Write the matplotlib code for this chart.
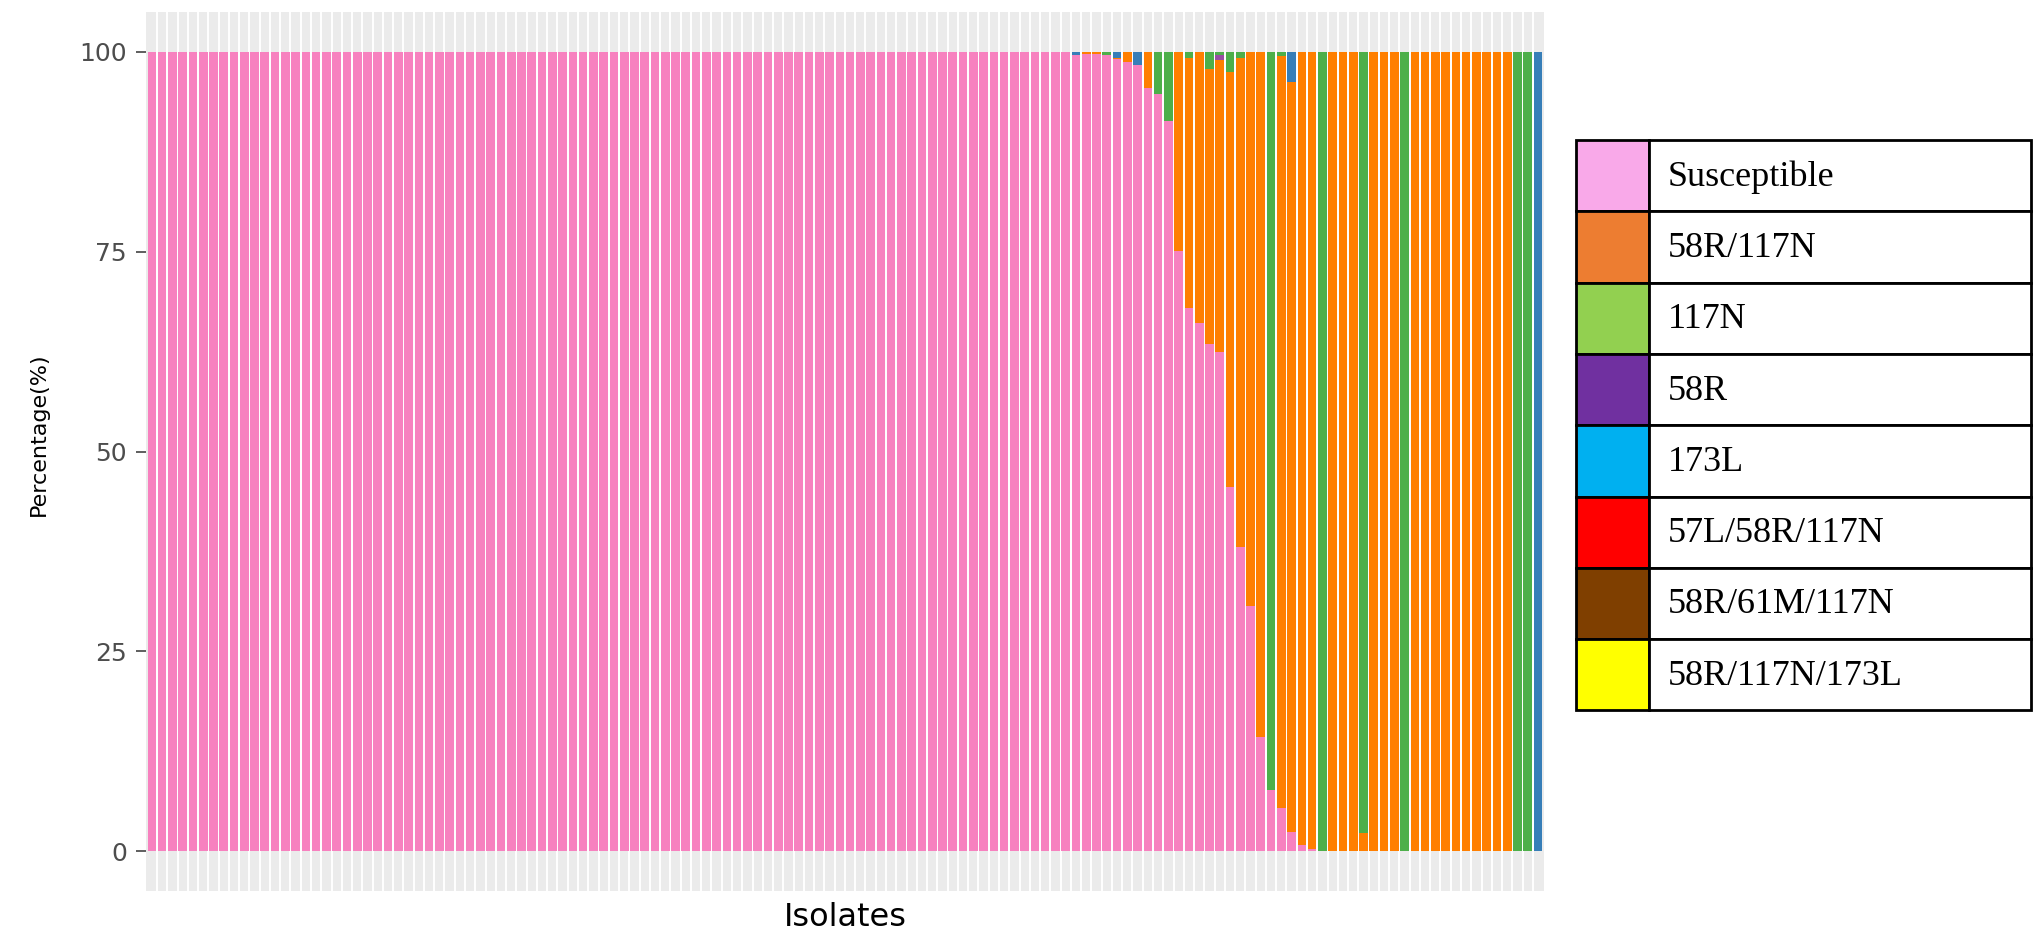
import numpy as np
import matplotlib.pyplot as plt
from matplotlib.patches import Rectangle

# share (%) of each genotype per isolate, isolates left to right
susceptible = [100] * 90 + [99.6, 99.7, 99.7, 99.6, 99.1, 98.8, 98.4, 95.5, 94.7, 91.4,
                            75.1, 67.9, 66.1, 63.4, 62.4, 45.6, 38.1, 30.7, 14.3, 7.6,
                            5.4, 2.4, 0.8, 0.3] + [0] * 22
r58_n117 = [0] * 90 + [0, 0.3, 0.3, 0, 0.2, 1.2, 0, 4.5, 0, 0,
                       24.9, 31.3, 33.9, 34.5, 36.6, 51.9, 61.1, 69.3, 85.7, 0,
                       94.1, 93.9, 99.2, 99.7] + \
           [0, 100, 100, 100, 2.2, 100, 100, 100, 0] + [100] * 10 + [0, 0, 0]
r58 = [0] * 104 + [0.6] + [0] * 31
n117 = [0] * 90 + [0, 0, 0, 0.4, 0, 0, 0, 0, 5.3, 8.6,
                   0, 0.8, 0, 2.1, 0.4, 2.5, 0.8, 0, 0, 92.4,
                   0.5, 0, 0, 0] + \
       [100, 0, 0, 0, 97.8, 0, 0, 0, 100] + [0] * 10 + [100, 100, 0]
l173 = [0] * 90 + [0.4, 0, 0, 0, 0.7, 0, 1.6] + [0] * 14 + [3.7] + [0] * 23 + [100]

series = [susceptible, r58_n117, r58, n117, l173]
bar_colors = ['#F781BF', '#FF7F00', '#984EA3', '#4DAF4A', '#377EB8']

yticks = [0, 25, 50, 75, 100]

legend_labels = ['Susceptible', '58R/117N', '117N', '58R', '173L',
                 '57L/58R/117N', '58R/61M/117N', '58R/117N/173L']
legend_colors = ['#F9A9E9', '#ED7D31', '#92D050', '#7030A0', '#00B0F0',
                 '#FF0000', '#7F3F00', '#FFFF00']

W, H = 2034, 932
fig = plt.figure(figsize=(W / 100, H / 100), dpi=100)

# main panel
ax = fig.add_axes([145.7 / W, (H - 891) / H, 1398.5 / W, 879 / H])
ax.set_facecolor('#EBEBEB')
n = len(susceptible)
x = np.arange(1, n + 1)
ax.set_xlim(0.4, n + 0.6)
ax.set_ylim(-5, 105)
ax.vlines(x[:-1] + 0.5, -5, 105, color='white', lw=1.4, zorder=0.5)

bottom = np.zeros(n)
for vals, col in zip(series, bar_colors):
    vals = np.array(vals, dtype=float)
    ax.bar(x, vals, width=0.84, bottom=bottom, color=col, linewidth=0, zorder=2)
    bottom += vals

ax.set_xticks([])
ax.set_yticks(yticks)
ax.set_yticklabels([str(t) for t in yticks])
ax.tick_params(axis='y', length=7, width=1.1, color='#333333',
               labelcolor='#4D4D4D', labelsize=18, pad=6.5)
for s in ax.spines.values():
    s.set_visible(False)

fig.text(39 / W, 1 - 434 / H, 'Percentage(%)', rotation=90, ha='center', va='center',
         fontsize=16, color='black')
fig.text(845 / W, 1 - 917 / H, 'Isolates', ha='center', va='center',
         fontsize=23, color='black')

# table-style legend
lax = fig.add_axes([0, 0, 1, 1])
lax.set_xlim(0, W)
lax.set_ylim(H, 0)
lax.axis('off')
top, row_h = 140.0, 71.3
x0, x1, x2 = 1576, 1649, 2031
for i, (lab, col) in enumerate(zip(legend_labels, legend_colors)):
    y0 = top + i * row_h
    lax.add_patch(Rectangle((x0, y0), x1 - x0, row_h, facecolor=col,
                            edgecolor='black', lw=2))
    lax.add_patch(Rectangle((x1, y0), x2 - x1, row_h, facecolor='white',
                            edgecolor='black', lw=2))
    lax.text(1668, y0 + row_h / 2 + 10, lab, ha='left', va='baseline',
             family=['Liberation Serif', 'DejaVu Serif'], fontsize=26, color='black')

fig.savefig('out.png', dpi=100)
